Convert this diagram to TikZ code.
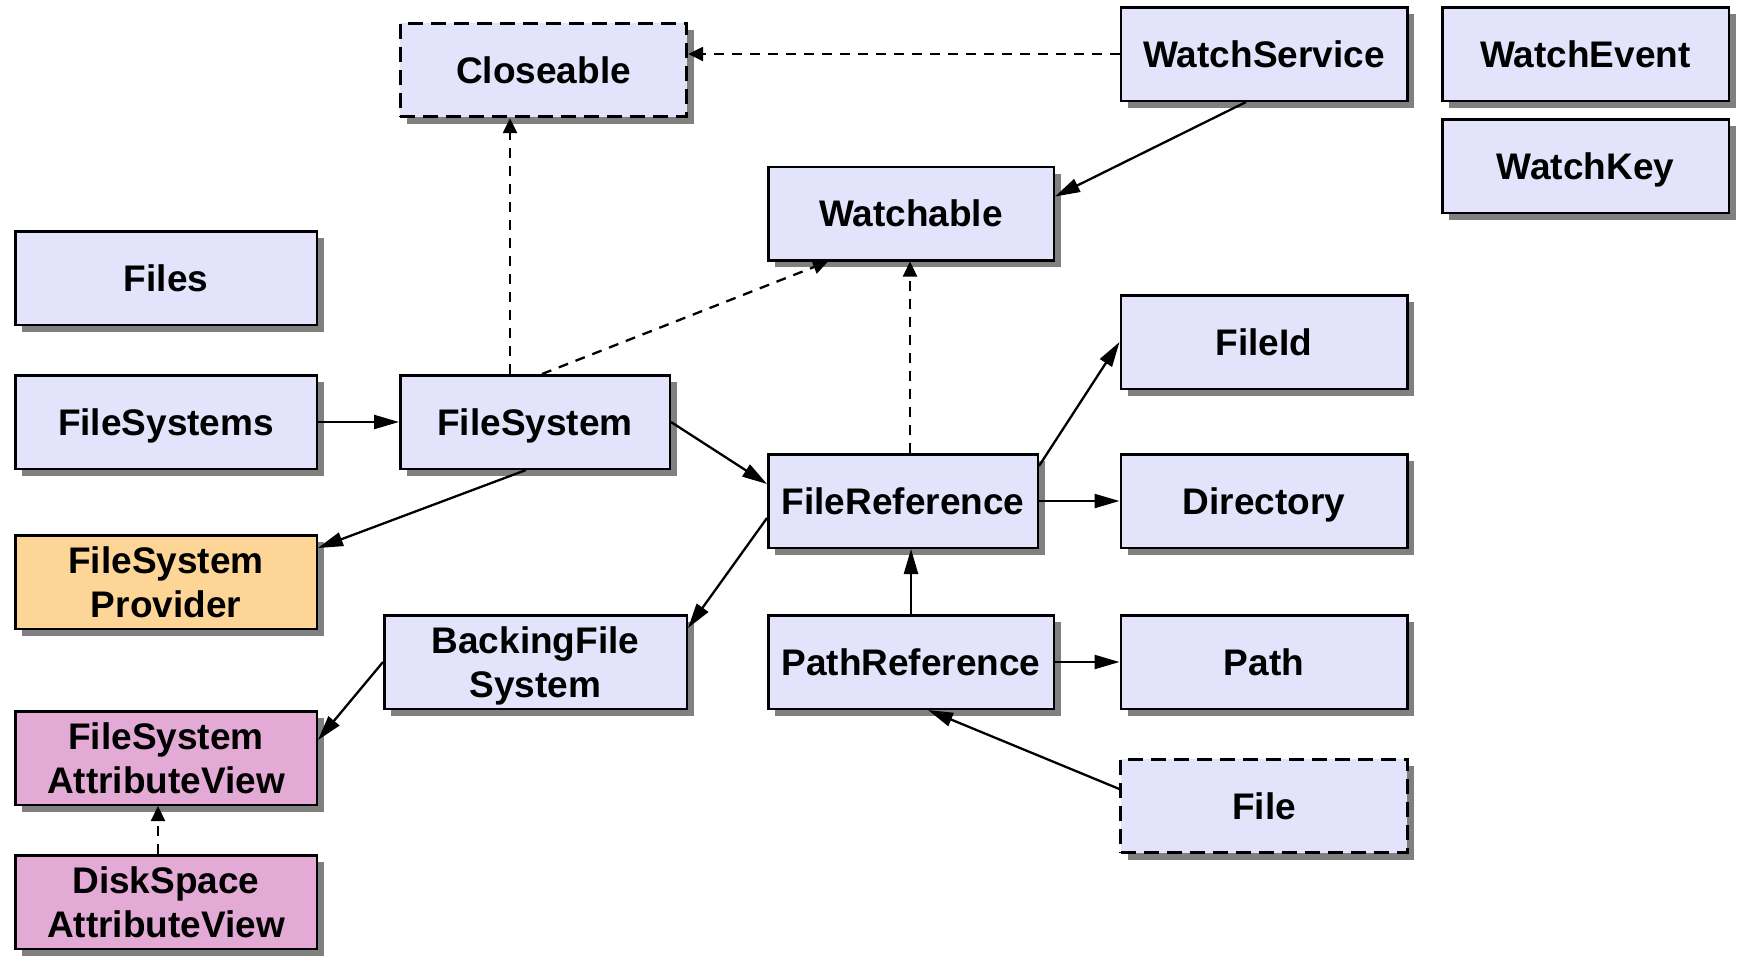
\documentclass[tikz,border=0pt]{standalone}
\usepackage{fontspec}
\setmainfont{Liberation Sans}
\usetikzlibrary{arrows.meta,shadows}
\definecolor{lav}{RGB}{227,227,251}
\definecolor{prov}{RGB}{253,213,151}
\definecolor{attr}{RGB}{227,170,213}

\begin{document}
\begin{tikzpicture}[x=1pt,y=-1pt,
        cls/.style={draw,line width=2.5pt,fill=lav,minimum width=286.5pt,minimum height=93.5pt,align=center,
            font=\fontsize{37}{43.5}\selectfont\bfseries,text depth=0pt,
            drop shadow={shadow xshift=7pt,shadow yshift=-7pt,fill=black!50,opacity=1}},
        wide/.style={minimum width=301.5pt},
        iface/.style={cls,line width=2.8pt,dash pattern=on 15pt off 8pt},
        uses/.style={-{Triangle[length=25pt,width=14pt]},line width=2.3pt},
        impl/.style={-{Triangle[length=15pt,width=14pt]},line width=2.3pt,dash pattern=on 10pt off 8pt}]
        \useasboundingbox (0,0) rectangle (1739,959);
        % Draw the types
        \node[iface] (clos) at (543.5,70) {Closeable};
        \node[cls] (wsvc) at (1264,54) {WatchService};
        \node[cls] (wevt) at (1585.5,54) {WatchEvent};
        \node[cls] (wkey) at (1585.5,166) {WatchKey};
        \node[cls,minimum width=285.5pt] (wtch) at (911,213.5) {Watchable};
        \node[cls,wide] (files) at (166,278) {Files};
        \node[cls] (fid) at (1264,342) {FileId};
        \node[cls,wide] (fss) at (166,422) {FileSystems};
        \node[cls,minimum width=269.5pt] (fsys) at (535,422) {FileSystem};
        \node[cls,minimum width=269.5pt] (fref) at (903,501) {FileReference};
        \node[cls] (dir) at (1264,501) {Directory};
        \node[cls,wide,fill=prov] (fsp) at (166,582) {FileSystem\\Provider};
        \node[cls,minimum width=302.5pt] (bfs) at (535.5,662) {BackingFile\\System};
        \node[cls,minimum width=285.5pt] (pref) at (911,662) {PathReference};
        \node[cls] (path) at (1264,662) {Path};
        \node[cls,wide,fill=attr] (fsav) at (166,758) {FileSystem\\AttributeView};
        \node[iface] (file) at (1264,806) {File};
        \node[cls,wide,fill=attr] (dsav) at (166,902) {DiskSpace\\AttributeView};
        % Dashed links
        \draw[impl] (wsvc.west) -- (wsvc.west -| clos.east);
        \draw[impl] ([xshift=-25pt]fsys.north) -- ([xshift=-25pt]fsys.north |- clos.south);
        \draw[impl] ([xshift=7pt]fsys.north) -- ([xshift=-83pt]wtch.south);
        \draw[impl] ([xshift=7pt]fref.north) -- ([xshift=7pt]fref.north |- wtch.south);
        \draw[impl] ([xshift=-8pt]dsav.north) -- ([xshift=-8pt]fsav.south);
        % Solid links
        \foreach \a/\b in {fss/fsys,fref/dir,pref/path} \draw[uses] (\a) -- (\b);
        \draw[uses] (pref.north) -- (pref.north |- fref.south);
        \draw[uses] ([xshift=-18pt]wsvc.south) -- ([yshift=17pt]wtch.east);
        \draw[uses] (fsys.east) -- ([yshift=17pt]fref.west);
        \draw[uses] ([xshift=-9pt]fsys.south) -- ([yshift=34pt]fsp.east);
        \draw[uses] ([yshift=35pt]fref.east) -- (fid.west);
        \draw[uses] ([yshift=-17pt]fref.west) -- ([yshift=34pt]bfs.east);
        \draw[uses] (bfs.west) -- ([yshift=18pt]fsav.east);
        \draw[uses] ([yshift=17pt]file.west) -- ([xshift=17pt]pref.south);
    \end{tikzpicture}
\end{document}
